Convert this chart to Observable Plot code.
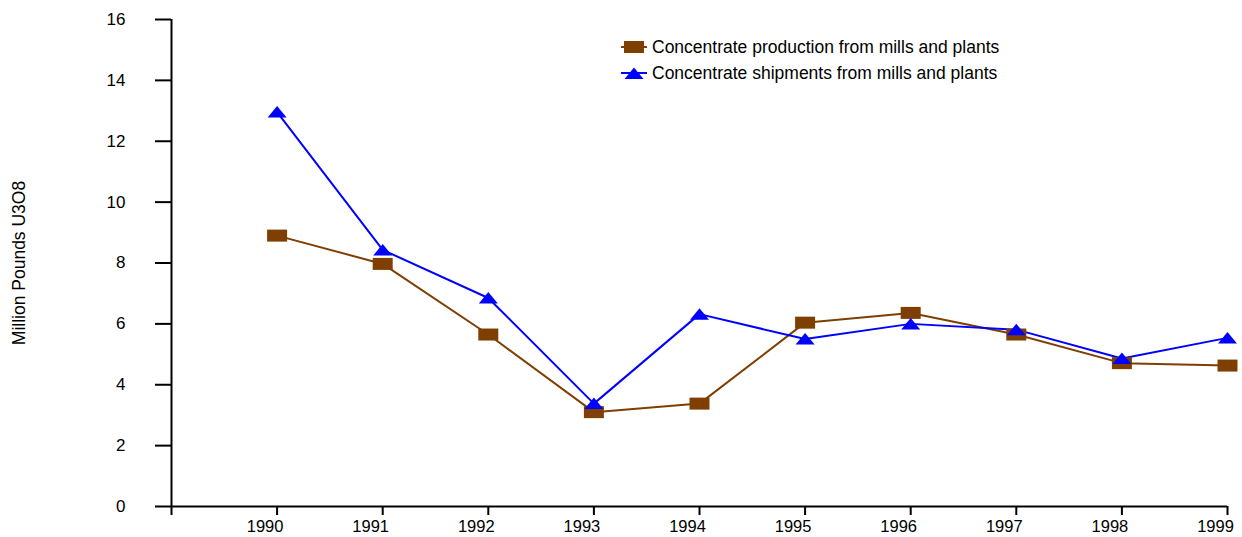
<!DOCTYPE html>
<html><head><meta charset="utf-8">
<script src="https://cdn.jsdelivr.net/npm/d3@7"></script>
<script src="https://cdn.jsdelivr.net/npm/@observablehq/plot@0.6"></script>
<style>
body{margin:0;background:#fff;font-family:"Liberation Sans",Arial,sans-serif;}
#wrap{position:relative;width:1242px;height:537px;overflow:hidden;}
.legend{position:absolute;left:621px;top:34px;font-size:17.5px;color:#000;}
.row{display:flex;align-items:center;height:26px;}
.row svg{margin-right:5px;}
</style></head><body><div id="wrap"></div>
<script>
const years = [1990, 1991, 1992, 1993, 1994, 1995, 1996, 1997, 1998, 1999];
const production = [8.90, 7.97, 5.65, 3.10, 3.38, 6.04, 6.36, 5.65, 4.71, 4.63];
const shipments = [12.96, 8.43, 6.85, 3.38, 6.32, 5.50, 6.00, 5.81, 4.86, 5.54];
const seriesNames = ["Concentrate production from mills and plants", "Concentrate shipments from mills and plants"];
const seriesColors = ["#7F3F00", "#0000FF"];
const yTicks = [0, 2, 4, 6, 8, 10, 12, 14, 16];
const xTicks = [1989, 1990, 1991, 1992, 1993, 1994, 1995, 1996, 1997, 1998, 1999];
const yLabel = "Million Pounds U3O8";

const rectSym = {draw(ctx) { ctx.moveTo(-10, -6); ctx.lineTo(10, -6); ctx.lineTo(10, 6); ctx.lineTo(-10, 6); ctx.closePath(); }};
const triSym = {draw(ctx) { ctx.moveTo(0, -6); ctx.lineTo(9.5, 5.5); ctx.lineTo(-9.5, 5.5); ctx.closePath(); }};
const symbols = [rectSym, triSym];

const seriesValues = [production, shipments];
const data = [];
seriesValues.forEach((vals, s) => years.forEach((yr, i) => data.push({series: seriesNames[s], year: yr, value: vals[i]})));

const chart = Plot.plot({
  width: 1242, height: 537,
  marginLeft: 171, marginRight: 15, marginTop: 19, marginBottom: 31,
  style: {fontFamily: '"Liberation Sans", Arial, sans-serif', fontSize: "17px", color: "#000", background: "#fff", overflow: "visible"},
  x: {domain: [xTicks[0], xTicks[xTicks.length - 1]]},
  y: {domain: [yTicks[0], yTicks[yTicks.length - 1]]},
  marks: [
    Plot.axisY({ticks: yTicks, tickSize: 16, tickPadding: 30, strokeWidth: 2, label: null, fontSize: 17}),
    Plot.axisX({ticks: xTicks, tickFormat: d => d === xTicks[0] ? "" : String(d), tickSize: 9, tickPadding: 5, strokeWidth: 2, label: null, fontSize: 16.5, textStroke: "none"}),
    Plot.text([yLabel], {frameAnchor: "left", rotate: -90, dx: -152, fontSize: 17.5, fill: "#000", textAnchor: "middle", lineAnchor: "middle"}),
    Plot.ruleX([xTicks[0]], {y1: yTicks[0], y2: yTicks[yTicks.length - 1], stroke: "#000", strokeWidth: 2}),
    Plot.ruleY([yTicks[0]], {stroke: "#000", strokeWidth: 2}),
    ...seriesNames.map((name, s) => Plot.line(data.filter(d => d.series === name), {x: "year", y: "value", stroke: seriesColors[s], strokeWidth: 2})),
    ...seriesNames.map((name, s) => Plot.dot(data.filter(d => d.series === name), {x: "year", y: "value", fill: seriesColors[s], stroke: "none", symbol: symbols[s], r: 6}))
  ]
});
const wrap = document.getElementById("wrap");
wrap.appendChild(chart);
// shift x tick labels slightly left, as in the reference
d3.select(chart).selectAll('g[aria-label="x-axis tick label"] text').attr("dx", -12);

const legend = document.createElement("div");
legend.className = "legend";
const shapes = [
  '<rect x="3" y="1" width="20" height="12"/>',
  '<polygon points="13,1.5 22.5,13 3.5,13"/>'
];
seriesNames.forEach((name, s) => {
  const row = document.createElement("div");
  row.className = "row";
  row.innerHTML = `<svg width="26" height="14"><line x1="0" x2="26" y1="7" y2="7" stroke="${seriesColors[s]}" stroke-width="2"/><g fill="${seriesColors[s]}">${shapes[s]}</g></svg><span>${name}</span>`;
  legend.appendChild(row);
});
wrap.appendChild(legend);
</script>
</body></html>
